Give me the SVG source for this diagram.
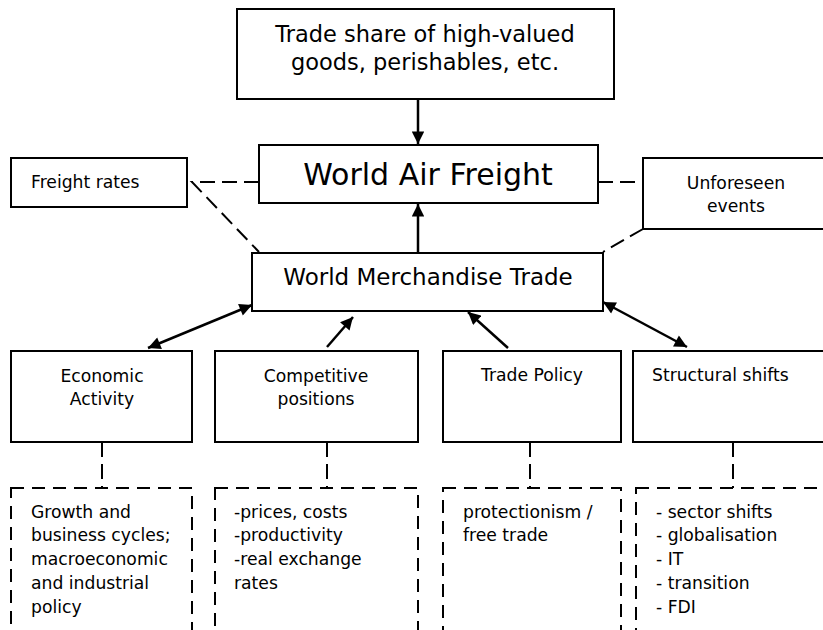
<svg xmlns="http://www.w3.org/2000/svg" width="823" height="630" viewBox="0 0 823 630">
<defs>
<marker id="ah" viewBox="0 0 10 10" refX="10" refY="5" markerWidth="5.4" markerHeight="5" markerUnits="strokeWidth" orient="auto-start-reverse">
<path d="M0,0 L10,5 L0,10 z" fill="#000"/>
</marker>
<style>
.box{fill:#fff;stroke:#000;stroke-width:2}
.dbox{fill:none;stroke:#000;stroke-width:2;stroke-dasharray:13 8}
.dl{fill:none;stroke:#000;stroke-width:2;stroke-dasharray:15 7}
.ar{fill:none;stroke:#000;stroke-width:2.5}
text{font-family:"DejaVu Sans",Verdana,sans-serif;fill:#000}
.t17{font-size:17.2px}
.c{text-anchor:middle}
</style>
</defs>
<rect width="823" height="630" fill="#fff"/>
<g id="connectors">
<line class="ar" x1="418" y1="99" x2="418" y2="144" marker-end="url(#ah)"/>
<line class="ar" x1="418" y1="253" x2="418" y2="204" marker-end="url(#ah)"/>
<path class="dl" d="M259,182 H192 L259,252"/>
<path class="dl" d="M598,182 H643 M643,229 L603,252"/>
<line class="ar" x1="148" y1="348" x2="252" y2="305" marker-start="url(#ah)" marker-end="url(#ah)"/>
<line class="ar" x1="327" y1="347" x2="353" y2="317" marker-end="url(#ah)"/>
<line class="ar" x1="508" y1="348" x2="468" y2="312" marker-end="url(#ah)"/>
<line class="ar" x1="603" y1="302" x2="687" y2="347" marker-start="url(#ah)" marker-end="url(#ah)"/>
<line class="dl" x1="102" y1="442" x2="102" y2="488"/>
<line class="dl" x1="327" y1="442" x2="327" y2="488"/>
<line class="dl" x1="530" y1="442" x2="530" y2="488"/>
<line class="dl" x1="733" y1="442" x2="733" y2="488"/>
</g>
<g id="trade-share">
<rect class="box" x="237" y="9" width="377" height="90"/>
<text class="c" x="425" y="42" font-size="22.5">Trade share of high-valued</text>
<text class="c" x="425" y="70" font-size="22.5">goods, perishables, etc.</text>
</g>
<g id="world-air-freight">
<rect class="box" x="259" y="145" width="339" height="58"/>
<text class="c" x="428" y="185" font-size="30">World Air Freight</text>
</g>
<g id="freight-rates">
<rect class="box" x="11" y="158" width="176" height="49"/>
<text class="t17" x="31" y="188">Freight rates</text>
</g>
<g id="unforeseen">
<rect class="box" x="643" y="158" width="190" height="71"/>
<text class="t17 c" x="736" y="189">Unforeseen</text>
<text class="t17 c" x="736" y="212">events</text>
</g>
<g id="world-merchandise-trade">
<rect class="box" x="252" y="253" width="351" height="58"/>
<text class="c" x="428" y="285" font-size="23">World Merchandise Trade</text>
</g>
<g id="economic-activity">
<rect class="box" x="11" y="351" width="181" height="91"/>
<text class="t17 c" x="102" y="382">Economic</text>
<text class="t17 c" x="102" y="405">Activity</text>
</g>
<g id="competitive-positions">
<rect class="box" x="215" y="351" width="203" height="91"/>
<text class="t17 c" x="316" y="382">Competitive</text>
<text class="t17 c" x="316" y="405">positions</text>
</g>
<g id="trade-policy">
<rect class="box" x="443" y="351" width="178" height="91"/>
<text class="t17 c" x="532" y="381">Trade Policy</text>
</g>
<g id="structural-shifts">
<rect class="box" x="633" y="351" width="200" height="91"/>
<text class="t17" x="652" y="381">Structural shifts</text>
</g>
<g id="economic-details">
<rect class="dbox" x="11" y="488" width="181" height="160"/>
<text class="t17" x="31" y="518">Growth and</text>
<text class="t17" x="31" y="541">business cycles;</text>
<text class="t17" x="31" y="565">macroeconomic</text>
<text class="t17" x="31" y="589">and industrial</text>
<text class="t17" x="31" y="613">policy</text>
</g>
<g id="competitive-details">
<rect class="dbox" x="215" y="488" width="203" height="160"/>
<text class="t17" x="234" y="518">-prices, costs</text>
<text class="t17" x="234" y="541">-productivity</text>
<text class="t17" x="234" y="565">-real exchange</text>
<text class="t17" x="234" y="589">rates</text>
</g>
<g id="trade-policy-details">
<rect class="dbox" x="443" y="488" width="178" height="160"/>
<text class="t17" x="463" y="518">protectionism /</text>
<text class="t17" x="463" y="541">free trade</text>
</g>
<g id="structural-details">
<rect class="dbox" x="636" y="488" width="200" height="160"/>
<text class="t17" x="656" y="518">- sector shifts</text>
<text class="t17" x="656" y="541">- globalisation</text>
<text class="t17" x="656" y="565">- IT</text>
<text class="t17" x="656" y="589">- transition</text>
<text class="t17" x="656" y="613">- FDI</text>
</g>
</svg>
